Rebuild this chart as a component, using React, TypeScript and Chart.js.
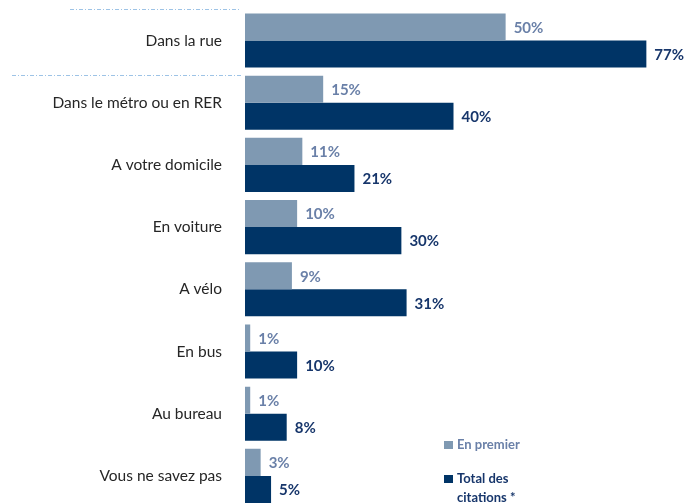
import React, { useEffect, useRef } from "react";
import { Chart, registerables } from "chart.js";

Chart.register(...registerables);

const categories = [
  "Dans la rue",
  "Dans le métro ou en RER",
  "A votre domicile",
  "En voiture",
  "A vélo",
  "En bus",
  "Au bureau",
  "Vous ne savez pas",
];
const seriesLabels = ["En premier", "Total des citations *"];
const enPremier = [50, 15, 11, 10, 9, 1, 1, 3];
const totalCitations = [77, 40, 21, 30, 31, 10, 8, 5];

const LIGHT_BAR = "#7f99b2";
const DARK_BAR = "#003466";
const LIGHT_TEXT = "#6a80a8";
const DARK_TEXT = "#17366b";
const FONT = "Lato, 'Open Sans', sans-serif";

const labelsPlugin = {
  id: "valueLabels",
  afterDatasetsDraw(chart: any) {
    const ctx = chart.ctx;
    ctx.save();
    ctx.font = `bold 15px ${FONT}`;
    ctx.textBaseline = "middle";
    ctx.textAlign = "left";
    chart.data.datasets.forEach((ds: any, di: number) => {
      const meta = chart.getDatasetMeta(di);
      ctx.fillStyle = di === 0 ? LIGHT_TEXT : DARK_TEXT;
      meta.data.forEach((el: any, i: number) => {
        ctx.fillText(`${ds.data[i]}%`, el.x + 8, el.y + 1);
      });
    });
    ctx.restore();
  },
};

const decorPlugin = {
  id: "decor",
  afterDraw(chart: any) {
    const ctx = chart.ctx;
    const y = chart.scales.y;
    const step = y.getPixelForValue(1) - y.getPixelForValue(0);
    const c0 = y.getPixelForValue(0);
    ctx.save();
    ctx.strokeStyle = "#9dc3e6";
    ctx.lineWidth = 1;
    ctx.setLineDash([4, 2, 1, 2]);
    ctx.beginPath();
    ctx.moveTo(70, Math.round(c0 - step / 2) + 0.5);
    ctx.lineTo(240, Math.round(c0 - step / 2) + 0.5);
    ctx.moveTo(12, Math.round(c0 + step / 2) + 3.5);
    ctx.lineTo(243, Math.round(c0 + step / 2) + 3.5);
    ctx.stroke();
    ctx.setLineDash([]);

    // legend
    const lx = 444;
    const items = [
      { label: seriesLabels[0], color: LIGHT_BAR, text: LIGHT_TEXT, y: 445 },
      { label: seriesLabels[1], color: DARK_BAR, text: DARK_TEXT, y: 479 },
    ];
    ctx.font = `bold 13px ${FONT}`;
    ctx.textBaseline = "middle";
    ctx.textAlign = "left";
    items.forEach((it) => {
      ctx.fillStyle = it.color;
      ctx.fillRect(lx, it.y - 4, 9, 8);
      ctx.fillStyle = it.text;
      const words = it.label.split(" ");
      const lines: string[] = [];
      let cur = "";
      words.forEach((w) => {
        const t = cur ? cur + " " + w : w;
        if (ctx.measureText(t).width > 80 && cur) {
          lines.push(cur);
          cur = w;
        } else cur = t;
      });
      if (cur) lines.push(cur);
      lines.forEach((ln, k) => ctx.fillText(ln, lx + 13, it.y + k * 19));
    });
    ctx.restore();
  },
};

export default function App() {
  const ref = useRef<HTMLCanvasElement>(null);
  useEffect(() => {
    if (!ref.current) return;
    const chart = new Chart(ref.current, {
      type: "bar",
      data: {
        labels: categories,
        datasets: [
          {
            label: seriesLabels[0],
            data: enPremier,
            backgroundColor: LIGHT_BAR,
            barPercentage: 1,
            categoryPercentage: 0.87,
          },
          {
            label: seriesLabels[1],
            data: totalCitations,
            backgroundColor: DARK_BAR,
            barPercentage: 1,
            categoryPercentage: 0.87,
          },
        ],
      },
      options: {
        indexAxis: "y",
        responsive: false,
        animation: false,
        devicePixelRatio: 1,
        layout: { padding: { left: 0, right: 24, top: 9.4, bottom: 13 } },
        plugins: {
          legend: { display: false },
          tooltip: { enabled: false },
        },
        scales: {
          x: { display: false, min: 0, max: 80 },
          y: {
            afterFit(scale: any) {
              scale.width = 245;
            },
            grid: { display: false, drawTicks: true, tickLength: 23 },
            border: { display: false },
            ticks: {
              padding: 0,
              color: "#262626",
              font: { family: FONT, size: 15.5 },
            },
          },
        },
      },
      plugins: [labelsPlugin, decorPlugin],
    } as any);
    return () => chart.destroy();
  }, []);
  return (
    <div
      style={{
        position: "fixed",
        left: 0,
        top: 0,
        width: 686,
        height: 503,
        overflow: "hidden",
        background: "#fff",
      }}
    >
      <canvas ref={ref} width={686} height={520} style={{ display: "block" }} />
    </div>
  );
}
